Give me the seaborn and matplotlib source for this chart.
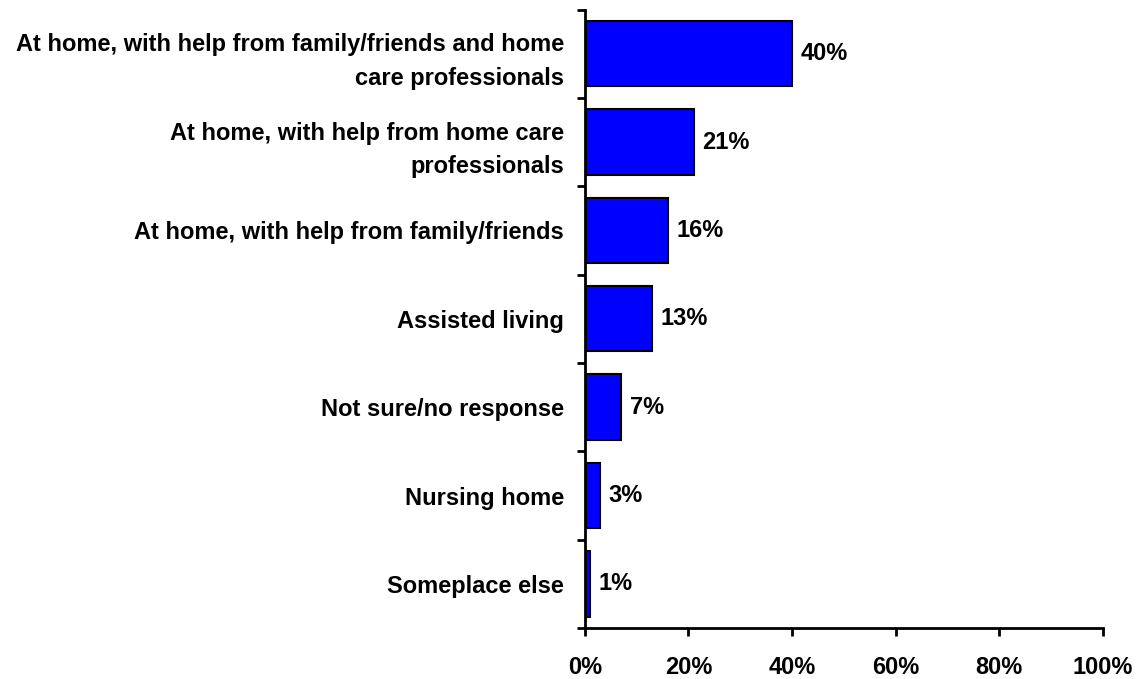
import matplotlib
matplotlib.use('Agg')
import matplotlib.pyplot as plt
import seaborn as sns
import pandas as pd
import numpy as np

categories = [
    'At home, with help from family/friends and home\ncare professionals',
    'At home, with help from home care\nprofessionals',
    'At home, with help from family/friends',
    'Assisted living',
    'Not sure/no response',
    'Nursing home',
    'Someplace else',
]
values = [40, 21, 16, 13, 7, 3, 1]
x_ticks = [0, 20, 40, 60, 80, 100]

sns.set_style('white')
plt.rcParams['font.family'] = ['Liberation Sans', 'DejaVu Sans']
plt.rcParams['font.weight'] = 'bold'
for key in ['text.color', 'axes.labelcolor', 'xtick.color', 'ytick.color']:
    plt.rcParams[key] = 'black'

df = pd.DataFrame({'place': categories, 'share': values})

fig = plt.figure(figsize=(11.38, 6.79), dpi=100)
ax = fig.add_axes([0.514, 0.075, 0.455, 0.911])

sns.barplot(data=df, x='share', y='place', orient='h', color='#0000FF',
            saturation=1, edgecolor='black', linewidth=1.5, width=0.74, ax=ax)

# value labels next to bars
ax.bar_label(ax.containers[0], labels=[f'{v}%' for v in values], padding=6,
             fontsize=17, fontweight='bold', color='black')

ax.set_xlim(0, 100)
ax.set_ylim(len(categories) - 0.5, -0.5)
ax.set_xticks(x_ticks)
ax.set_xticklabels([f'{t}%' for t in x_ticks], fontsize=17, fontweight='bold')
ax.tick_params(axis='x', direction='out', length=6, width=2, pad=14, bottom=True)

# labels centered, tick marks between the categories
ax.set_yticks(range(len(categories)))
ax.set_yticklabels(categories, fontsize=17, fontweight='bold', linespacing=1.6)
ax.tick_params(axis='y', which='major', length=0, pad=15)
ax.set_yticks(np.arange(-0.5, len(categories), 1), minor=True)
ax.tick_params(axis='y', which='minor', direction='out', length=6, width=2, left=True)

ax.set_xlabel('')
ax.set_ylabel('')
for side in ['top', 'right']:
    ax.spines[side].set_visible(False)
for side in ['left', 'bottom']:
    ax.spines[side].set_linewidth(2)
    ax.spines[side].set_color('black')

plt.savefig('out.png', dpi=100)
plt.close()
